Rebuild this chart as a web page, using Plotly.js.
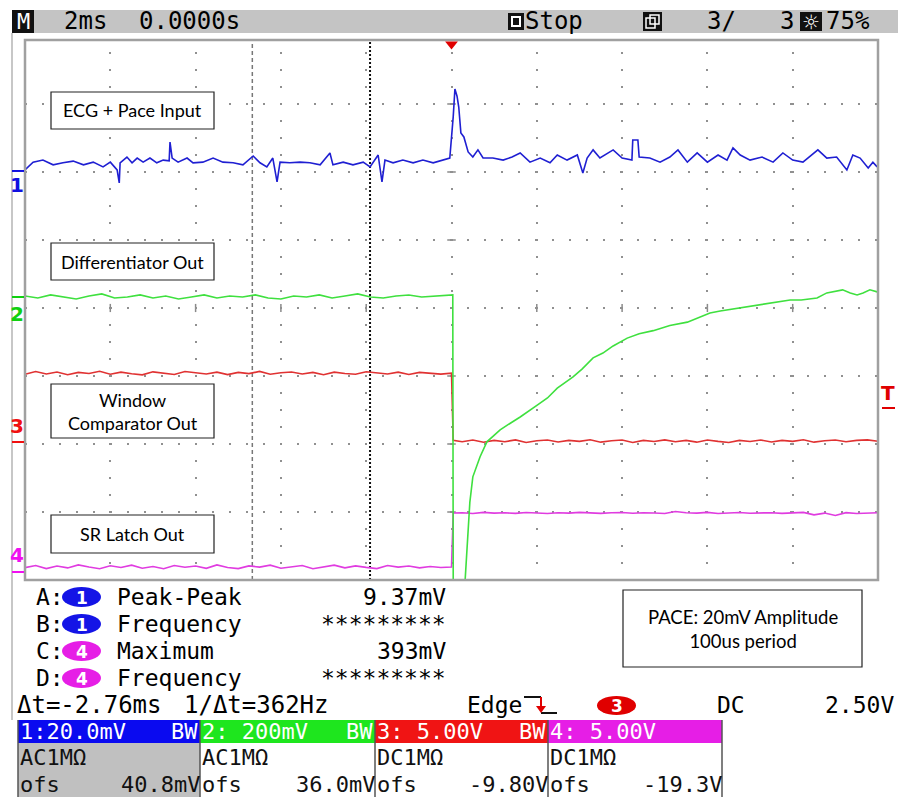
<!DOCTYPE html>
<html><head><meta charset="utf-8">
<script src="https://cdn.plot.ly/plotly-3.0.1.min.js"></script>
<style>html,body{margin:0;padding:0;background:#fff;}#chart{width:898px;height:797px;}</style>
</head><body><div id="chart"></div>
<script>
// ---------------- DATA ----------------
// time in ms (2 ms/div, trigger at 0)
const tCh1 = [-10.00,-9.81,-9.58,-9.34,-9.11,-8.87,-8.63,-8.40,-8.17,-8.00,-7.84,-7.79,-7.77,-7.61,-7.49,-7.37,-7.23,-7.07,-6.91,-6.76,-6.62,-6.60,-6.55,-6.41,-6.20,-6.06,-5.83,-5.59,-5.36,-5.12,-4.89,-4.65,-4.49,-4.33,-4.19,-4.09,-4.02,-3.79,-3.55,-3.32,-3.08,-2.85,-2.78,-2.54,-2.31,-2.07,-1.91,-1.72,-1.63,-1.56,-1.37,-1.14,-0.90,-0.67,-0.43,-0.20,-0.04,0.04,0.08,0.13,0.17,0.22,0.29,0.39,0.50,0.62,0.74,0.97,1.21,1.42,1.61,1.84,2.08,2.31,2.48,2.71,2.95,3.08,3.18,3.32,3.48,3.79,4.00,4.23,4.25,4.37,4.40,4.65,4.89,5.12,5.31,5.53,5.76,6.00,6.25,6.46,6.60,6.77,7.00,7.28,7.54,7.77,8.00,8.24,8.59,8.80,9.03,9.27,9.41,9.58,9.77,9.88,9.98];
// CH1 ECG + pace input, mV
const ch1mV = [0.3,2.6,3.2,1.8,2.4,2.9,1.8,2.6,1.2,2.6,0.3,-3.5,2.4,4.1,2.4,3.8,2.6,3.8,2.4,3.2,3.0,8.5,3.8,2.6,3.8,2.4,2.6,3.8,2.6,2.4,1.8,4.4,2.4,1.2,3.8,-3.2,2.6,2.4,2.6,2.4,1.8,5.3,1.8,2.6,1.8,2.6,1.2,4.7,-3.2,3.2,2.4,3.2,2.4,3.2,2.4,3.2,3.8,15.9,24.1,22.0,18.8,11.2,10.0,5.6,4.1,6.2,3.8,3.8,3.2,4.1,5.3,2.6,3.8,2.4,4.7,3.2,4.7,-0.6,3.8,6.2,3.8,6.2,3.8,3.2,9.1,9.1,4.1,3.8,2.6,4.1,6.2,2.6,5.3,2.6,4.7,3.2,6.8,4.7,3.2,4.1,2.6,5.3,3.2,2.6,6.2,3.8,4.1,0.3,4.7,3.8,0.9,2.6,1.2];

const tCh2 = [-10,-9.7,-9.4,-9.1,-8.8,-8.5,-8.2,-7.9,-7.6,-7.3,-7.0,-6.7,-6.4,-6.1,-5.8,-5.5,-5.2,-4.9,-4.6,-4.3,-4.0,-3.7,-3.4,-3.1,-2.8,-2.5,-2.2,-1.9,-1.6,-1.3,-1.0,-0.7,-0.4,-0.1,0.03,0.05,0.25,0.32,0.43,0.50,0.67,0.83,1.14,1.37,1.61,2.01,2.25,2.48,2.85,3.06,3.32,3.55,3.79,4.12,4.40,4.73,4.93,5.12,5.53,5.83,6.06,6.30,6.60,6.90,7.24,7.60,7.94,8.20,8.57,8.80,9.17,9.35,9.51,9.65,9.81,9.98];
// CH2 differentiator out, mV
const ch2mV = [3,-3,6,0,-6,3,9,-3,0,6,-3,3,-6,0,6,-3,3,0,6,-3,-6,3,0,6,-3,3,9,0,-3,3,6,0,3,6,6,-1600,-1400,-832,-604,-529,-470,-426,-391,-372,-353,-318,-297,-268,-235,-212,-179,-165,-144,-121,-108,-99,-91,-84,-74,-60,-47,-41,-35,-29,-24,-15,-9,-9,-3,12,21,12,6,12,21,15];

const tLogic = [-10,-9.75,-9.5,-9.25,-9,-8.75,-8.5,-8.25,-8,-7.75,-7.5,-7.25,-7,-6.75,-6.5,-6.25,-6,-5.75,-5.5,-5.25,-5,-4.75,-4.5,-4.25,-4,-3.75,-3.5,-3.25,-3,-2.75,-2.5,-2.25,-2,-1.75,-1.5,-1.25,-1,-0.75,-0.5,-0.25,0.0,
  0.04,0.25,0.5,0.75,1,1.25,1.5,1.75,2,2.25,2.5,2.75,3,3.25,3.5,3.75,4,4.25,4.5,4.75,5,5.25,5.5,5.75,6,6.25,6.5,6.75,7,7.25,7.5,7.75,8,8.25,8.5,8.75,9,9.25,9.5,9.75,10];
// CH3 window comparator out, V
const ch3V = [4.98,5.18,5.0,5.15,4.95,5.12,5.04,5.2,4.98,5.14,5.02,4.94,5.16,5.05,4.97,5.18,5.08,5.0,5.14,4.96,5.12,5.03,5.19,4.98,5.09,5.15,5.0,5.12,4.95,5.14,5.04,4.98,5.17,5.06,5.0,5.14,4.97,5.12,5.04,4.99,5.06,
  0.12,0.02,0.15,-0.02,0.12,0.02,0.16,-0.03,0.09,0.15,0.0,0.12,0.05,0.17,-0.01,0.09,0.15,-0.03,0.12,0.04,0.16,0.02,0.12,-0.01,0.15,0.05,-0.03,0.12,0.04,0.15,0.0,0.12,0.05,0.17,-0.01,0.09,0.15,0.02,0.12,0.16,0.06];
// CH4 SR latch out, V
const ch4V = [0.32,0.48,0.25,0.44,0.3,0.52,0.36,0.24,0.46,0.33,0.5,0.28,0.4,0.24,0.47,0.35,0.44,0.27,0.52,0.33,0.25,0.45,0.36,0.5,0.28,0.4,0.47,0.24,0.38,0.5,0.3,0.45,0.34,0.25,0.48,0.36,0.44,0.3,0.4,0.33,0.37,
  4.34,4.36,4.30,4.38,4.33,4.35,4.31,4.37,4.34,4.30,4.36,4.33,4.38,4.34,4.31,4.35,4.37,4.32,4.36,4.34,4.30,4.45,4.36,4.33,4.38,4.30,4.35,4.37,4.32,4.34,4.36,4.31,4.35,4.38,4.20,4.33,4.15,4.36,4.30,4.34,4.35];

const cursorTimes = [-4.67, -1.91];     // ms  (Δt = -2.76 ms)
const triggerLevelV = 2.5;              // CH3, falling edge
const measLabels = ['A:', 'B:', 'C:', 'D:'];
const measChan = ['1', '1', '4', '4'];
const measName = ['Peak-Peak', 'Frequency', 'Maximum', 'Frequency'];
const measValue = ['9.37mV', '*********', '393mV', '*********'];
const chHeader = ['1:20.0mV', '2: 200mV', '3: 5.00V', '4: 5.00V'];
const chBW = ['BW', 'BW', 'BW', ''];
const chCoupling = ['AC1MΩ', 'AC1MΩ', 'DC1MΩ', 'DC1MΩ'];
const chOffset = ['40.8mV', '36.0mV', '-9.80V', '-19.3V'];

// channel settings: volts per division and ground-marker position (divisions from centre)
const chan = {
  c1: {scale: 20,  ground: 2.015, color: '#1f1fd2', text: '#1010e0'},
  c2: {scale: 200, ground: 0.162, color: '#3fe03f', text: '#10d010'},
  c3: {scale: 5,   ground: -1.971, color: '#e03232', text: '#f01010'},
  c4: {scale: 5,   ground: -3.882, color: '#e03ce0', text: '#f010f0'}
};
const toDiv = (arr, c) => arr.map(v => c.ground + v / c.scale);

// ---------------- LAYOUT HELPERS ----------------
const L = 25, R = 878, T = 40, B = 580;
const X = p => (p - L) / (R - L);
const Y = p => (B - p) / (B - T);
const mono = 'DejaVu Sans Mono';
const shapes = [], ann = [];
function rect(x0, y0, x1, y1, fill, lc, lw) {
  shapes.push({type: 'rect', xref: 'paper', yref: 'paper', x0: X(x0), x1: X(x1), y0: Y(y0), y1: Y(y1),
    fillcolor: fill || 'rgba(0,0,0,0)', line: {color: lc || 'rgba(0,0,0,0)', width: lw || 0}, layer: 'above'});
}
function pline(x0, y0, x1, y1, color, width, dash) {
  shapes.push({type: 'line', xref: 'paper', yref: 'paper', x0: X(x0), x1: X(x1), y0: Y(y0), y1: Y(y1),
    line: {color: color, width: width, dash: dash || 'solid'}, layer: 'above'});
}
function ellipse(x0, y0, x1, y1, fill) {
  shapes.push({type: 'circle', xref: 'paper', yref: 'paper', x0: X(x0), x1: X(x1), y0: Y(y0), y1: Y(y1),
    fillcolor: fill, line: {width: 0}, layer: 'above'});
}
function txt(s, x, y, anchor, size, color, family, bold, h) {
  const a = {text: bold ? '<b>' + s + '</b>' : s, xref: 'paper', yref: 'paper', x: X(x), y: Y(y),
    xanchor: anchor || 'left', yanchor: 'middle', showarrow: false, borderpad: 0,
    font: {family: family || mono, size: size || 23, color: color || '#000'}};
  if (h) { a.height = h; a.valign = 'middle'; }
  ann.push(a);
}

// ---------------- TOP STATUS BAR ----------------
rect(12, 10, 898, 33, '#c4c4c4');
rect(12, 10, 34, 33, '#111');
txt('M', 23, 22, 'center', 22, '#fff');
txt('2ms', 63, 21, 'left', 24);
txt('0.0000s', 138, 21, 'left', 24);
rect(508, 13, 524, 30, '#111');
rect(511, 16, 521, 27, '#fff');
rect(513, 18, 519, 25, '#111');
txt('Stop', 524, 21, 'left', 24);
rect(643, 12, 662, 31, '#111');
rect(646, 18, 655, 28, 'rgba(0,0,0,0)', '#fff', 1.5);
rect(650, 15, 659, 24, 'rgba(0,0,0,0)', '#fff', 1.5);
txt('3/', 706, 21, 'left', 24);
txt('3', 779, 21, 'left', 24);
rect(800, 12, 822, 31, '#111');
txt('☼', 811, 22, 'center', 20, '#fff', 'DejaVu Sans');
txt('75%', 825, 21, 'left', 24);

// outer frame
pline(12, 33, 12, 720, '#b4b4b4', 1.5);

// ---------------- SCREEN DECORATION ----------------
shapes.push({type: 'rect', xref: 'paper', yref: 'paper', x0: 0, x1: 1, y0: 0, y1: 1,
  line: {color: '#a0a0a0', width: 2.5}, layer: 'above'});
// centre-line ticks
for (let k = -4; k <= 4; k++) {
  if (k === 0) continue;
  shapes.push({type: 'line', xref: 'x', yref: 'y', x0: 2 * k, x1: 2 * k, y0: -0.06, y1: 0.06,
    line: {color: '#8a8a8a', width: 1.5}, layer: 'below'});
}
for (let k = -3; k <= 3; k++) {
  if (k === 0) continue;
  shapes.push({type: 'line', xref: 'x', yref: 'y', x0: -0.1, x1: 0.1, y0: k, y1: k,
    line: {color: '#8a8a8a', width: 1.5}, layer: 'below'});
}
// cursors
shapes.push({type: 'line', xref: 'x', yref: 'paper', x0: cursorTimes[0], x1: cursorTimes[0], y0: 0, y1: 1,
  line: {color: '#777', width: 1.5, dash: '4px,3px'}, layer: 'below'});
shapes.push({type: 'line', xref: 'x', yref: 'paper', x0: cursorTimes[1], x1: cursorTimes[1], y0: 0, y1: 1,
  line: {color: '#111', width: 2, dash: '2px,2px'}, layer: 'below'});
// trigger position arrow
shapes.push({type: 'path', xref: 'x', yref: 'y', path: 'M -0.15 3.92 L 0.15 3.92 L 0 3.8 Z',
  fillcolor: '#e00000', line: {width: 0}, layer: 'above'});

// channel ground markers
const chKeys = ['c1', 'c2', 'c3', 'c4'];
const numShift = [-14, -17, 16, 17];
chKeys.forEach((k, i) => {
  const c = chan[k];
  shapes.push({type: 'line', xref: 'paper', yref: 'y', x0: X(12), x1: X(24), y0: c.ground, y1: c.ground,
    line: {color: c.text, width: 2}, layer: 'above'});
  ann.push({text: '<b>' + (i + 1) + '</b>', xref: 'paper', yref: 'y', x: X(17), y: c.ground, yshift: numShift[i],
    xanchor: 'center', yanchor: 'middle', showarrow: false, font: {family: 'DejaVu Sans', size: 20, color: c.text}});
});
// trigger level marker (CH3)
const trigDiv = chan.c3.ground + triggerLevelV / chan.c3.scale;
shapes.push({type: 'line', xref: 'paper', yref: 'y', x0: X(882), x1: X(895), y0: trigDiv, y1: trigDiv,
  line: {color: '#e00000', width: 2}, layer: 'above'});
ann.push({text: '<b>T</b>', xref: 'paper', yref: 'y', x: X(888.5), y: trigDiv, yshift: 15,
  xanchor: 'center', yanchor: 'middle', showarrow: false, font: {family: 'DejaVu Sans', size: 20, color: '#e00000'}});

// label boxes
const boxFont = 'Lato';
function labelBox(x0, y0, x1, y1, s, size) {
  rect(x0, y0, x1, y1, '#fff', '#222', 1.2);
  ann.push({text: s, xref: 'paper', yref: 'paper', x: X((x0 + x1) / 2), y: Y((y0 + y1) / 2),
    xanchor: 'center', yanchor: 'middle', showarrow: false, align: 'center',
    font: {family: boxFont, size: size, color: '#000'}});
}
labelBox(51, 92, 214, 129, 'ECG + Pace Input', 18);
labelBox(51, 243, 214, 280, 'Differentiator Out', 18);
labelBox(51, 384, 214, 438, 'Window<br>Comparator Out', 18);
labelBox(51, 515, 214, 553, 'SR Latch Out', 18);
labelBox(623, 590, 862, 667, 'PACE: 20mV Amplitude<br>100us period', 18.5);

// ---------------- MEASUREMENTS ----------------
const pillColor = {'1': '#1414e6', '4': '#e61ee6'};
measLabels.forEach((lab, i) => {
  const yc = 597 + 27 * i;
  txt(lab, 35, yc, 'left', 23);
  ellipse(62, yc - 10, 101, yc + 10, pillColor[measChan[i]]);
  txt(measChan[i], 81.5, yc + 0.5, 'center', 17, '#fff', 'DejaVu Sans', true);
  txt(measName[i], 116, yc, 'left', 23);
  txt(measValue[i], 447, yc, 'right', 23);
});
// Δt row
txt('Δt=-2.76ms', 16, 705, 'left', 24);
txt('1/Δt=362Hz', 183, 705, 'left', 24);
txt('Edge', 466, 705, 'left', 23);
pline(524, 697, 541, 697, '#111', 2);
pline(541, 713, 557, 713, '#111', 2);
pline(541, 697, 541, 708, '#e00000', 2);
shapes.push({type: 'path', xref: 'paper', yref: 'paper', layer: 'above',
  path: 'M ' + X(536) + ' ' + Y(706) + ' L ' + X(546) + ' ' + Y(706) + ' L ' + X(541) + ' ' + Y(713) + ' Z',
  fillcolor: '#e00000', line: {width: 0}});
ellipse(597, 696, 636, 715, '#e00000');
txt('3', 616.5, 705.5, 'center', 17, '#fff', 'DejaVu Sans', true);
txt('DC', 716, 705, 'left', 23);
txt('2.50V', 895, 705, 'right', 23);

// channel table
const colX = [18, 200, 375, 548, 722];
const hdrCol = ['#0a0af0', '#1ee61e', '#f01414', '#e61ee6'];
rect(18, 743, 200, 797, '#c0c0c0');
for (let i = 0; i < 4; i++) {
  rect(colX[i], 720, colX[i + 1], 743, hdrCol[i]);
  txt(chHeader[i], colX[i] + 1, 731.5, 'left', 22, '#fff', mono, false, 22);
  if (chBW[i]) txt(chBW[i], colX[i + 1] - 1, 731.5, 'right', 22, '#fff', mono, false, 22);
  txt(chCoupling[i], colX[i] + 1, 757, 'left', 22, '#111', mono, false, 22);
  txt('ofs', colX[i] + 1, 784, 'left', 22, '#111', mono, false, 22);
  txt(chOffset[i], colX[i + 1] + 1, 784, 'right', 22, '#111', mono, false, 22);
}
colX.forEach(x => pline(x, 720, x, 797, '#555', 1.5));

// ---------------- TRACES ----------------
const lineTrace = (x, y, color) => ({x: x, y: y, type: 'scatter', mode: 'lines',
  line: {color: color, width: 1.6}, hoverinfo: 'skip'});
const data = [
  lineTrace(tCh1, toDiv(ch1mV, chan.c1), chan.c1.color),
  lineTrace(tLogic, toDiv(ch3V, chan.c3), chan.c3.color),
  lineTrace(tLogic, toDiv(ch4V, chan.c4), chan.c4.color),
  lineTrace(tCh2, toDiv(ch2mV, chan.c2), chan.c2.color)
];

const layout = {
  width: 898, height: 797,
  margin: {l: L, r: 898 - R, t: T, b: 797 - B, pad: 0},
  paper_bgcolor: '#fff', plot_bgcolor: '#fff', showlegend: false,
  xaxis: {range: [-10, 10], tick0: -10, dtick: 2, showgrid: true, gridcolor: '#909090', gridwidth: 2,
    griddash: '0px,12px,2px,3px', zeroline: false, showticklabels: false, ticks: '', showline: false, fixedrange: true},
  yaxis: {range: [-4, 3.941], tick0: -4, dtick: 1, showgrid: true, gridcolor: '#909090', gridwidth: 2,
    griddash: '2px,15px', zeroline: false, showticklabels: false, ticks: '', showline: false, fixedrange: true},
  shapes: shapes, annotations: ann
};
Plotly.newPlot('chart', data, layout, {staticPlot: true, displayModeBar: false});
</script></body></html>
